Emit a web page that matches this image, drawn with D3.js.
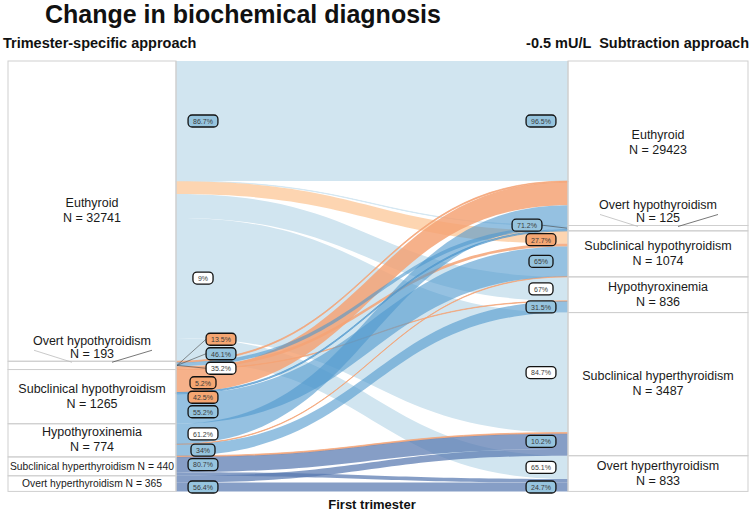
<!DOCTYPE html>
<html>
<head>
<meta charset="utf-8">
<script src="https://cdn.jsdelivr.net/npm/d3@7"></script>
<style>
  body { margin: 0; background: #fff; }
  svg { font-family: "Liberation Sans", Arial, sans-serif; }
</style>
</head>
<body>
<svg id="chart" width="752" height="512"></svg>
<script>
// Diagnoses, same order on both sides
const categories = ["Euthyroid", "Overt hypothyroidism", "Subclinical hypothyroidism",
  "Hypothyroxinemia", "Subclinical hyperthyroidism", "Overt hyperthyroidism"];
const keys = ["E", "OHo", "SHo", "HT", "SHr", "OHr"];

const leftTotals  = [32741, 193, 1265, 774, 440, 365];   // trimester-specific
const rightTotals = [29423, 125, 1074, 836, 3487, 833];  // -0.5 mU/L subtraction

// rows = trimester-specific diagnosis, cols = subtraction diagnosis
const transitions = [
  [28382,  7, 297, 560, 2953, 542],
  [   26, 89,  68,  10,    0,   0],
  [  538, 29, 698,   0,    0,   0],
  [  474,  0,  11, 263,   26,   0],
  [    0,  0,   0,   0,  355,  85],
  [    0,  0,   0,   0,  159, 206]
];

// flows that carry a percentage badge ([source, target])
const leftBadges  = [[0,0],[0,4],[1,0],[1,1],[1,2],[1,3],[2,0],[2,2],[3,0],[3,3],[4,4],[5,5]];
const rightBadges = [[0,0],[1,1],[0,2],[2,2],[0,3],[3,3],[0,4],[4,4],[0,5],[5,5]];
const orangeBadges = ["L1-0", "L1-3", "L2-0", "R0-2"];

const x0 = 176, x1 = 568, yTop = 61;
const xm = (x0 + x1) / 2;

// band thickness, big flows are truncated
const thick = d3.scaleLinear().domain([0, 2800]).range([0, 120]).clamp(true);

const col = { light: "#d1e5f0", peach: "#fdd0a8", orange: "#f4a376", blue: "#4f97cd", slate: "#5878b0" };
const opac = { light: 1, peach: 0.9, orange: 0.85, blue: 0.6, slate: 0.72 };

const svg = d3.select("#chart");

const flows = [];
transitions.forEach((row, s) => row.forEach((v, t) => {
  if (v > 0) flows.push({ s, t, v, w: thick(v) });
}));

function stackNodes(side) {
  const nodes = keys.map((k, i) => ({
    i, h: d3.sum(flows.filter(f => (side === "L" ? f.s : f.t) === i), f => f.w)
  }));
  let y = yTop;
  nodes.forEach(n => { n.y0 = y; n.y1 = y + n.h; y = n.y1; });
  return nodes;
}
const leftNodes = stackNodes("L");
const rightNodes = stackNodes("R");

leftNodes.forEach(n => {
  let y = n.y0;
  flows.filter(f => f.s === n.i).sort((a, b) => a.t - b.t)
    .forEach(f => { f.sy0 = y; f.sy1 = y + f.w; y += f.w; });
});
rightNodes.forEach(n => {
  let y = n.y0;
  flows.filter(f => f.t === n.i).sort((a, b) => a.s - b.s)
    .forEach(f => { f.ty0 = y; f.ty1 = y + f.w; y += f.w; });
});

function bandKind(f) {
  const s = keys[f.s], t = keys[f.t];
  if (s === "E") return t === "SHo" ? "peach" : "light";
  if (s === "SHr" || s === "OHr") return "slate";
  if (s === t) return "blue";
  if (s === "HT" && t === "E") return "blue";
  if (s === "SHo" && t === "OHo") return "blue";
  return "orange";
}

function bandPath(f) {
  const p = d3.path();
  p.moveTo(x0, f.sy0);
  p.bezierCurveTo(xm, f.sy0, xm, f.ty0, x1, f.ty0);
  p.lineTo(x1, f.ty1);
  p.bezierCurveTo(xm, f.ty1, xm, f.sy1, x0, f.sy1);
  p.closePath();
  return p.toString();
}

const order = ["light", "peach", "orange", "blue", "slate"];
flows.forEach(f => f.kind = bandKind(f));
const drawn = flows.slice().sort((a, b) => order.indexOf(a.kind) - order.indexOf(b.kind));

svg.append("g").selectAll("path")
  .data(drawn)
  .join("path")
  .attr("d", bandPath)
  .attr("fill", f => col[f.kind])
  .attr("fill-opacity", f => opac[f.kind])
  .attr("stroke", f => f.w < 2 ? col[f.kind] : "none")
  .attr("stroke-width", 0.7);

// frames
const frame = svg.append("g").attr("fill", "none").attr("stroke", "#cfcfcf").attr("stroke-width", 1);
const bottom = d3.max(leftNodes, n => n.y1);
frame.append("line").attr("x1", x0).attr("x2", x0).attr("y1", yTop).attr("y2", bottom);
frame.append("line").attr("x1", x1).attr("x2", x1).attr("y1", yTop).attr("y2", bottom);

function drawNodes(nodes, totals, bx0, bx1) {
  const g = svg.append("g");
  const cx = (bx0 + bx1) / 2;
  nodes.forEach(n => {
    g.append("rect").attr("x", bx0).attr("y", n.y0).attr("width", bx1 - bx0).attr("height", n.h)
      .attr("fill", "none").attr("stroke", "#cfcfcf");
    const name = categories[n.i], nTxt = `N = ${totals[n.i]}`;
    const cy = (n.y0 + n.y1) / 2;
    if (n.h >= 30) {
      g.append("text").attr("x", cx).attr("y", cy - 8).text(name);
      g.append("text").attr("x", cx).attr("y", cy + 7).text(nTxt);
    } else if (n.h >= 12) {
      g.append("text").attr("x", cx).attr("y", cy).attr("font-size", 10.3).text(`${name} ${nTxt}`);
    } else {
      g.append("text").attr("x", cx).attr("y", n.y0 - 20).text(name);
      g.append("text").attr("x", cx).attr("y", n.y0 - 7).text(nTxt);
      g.append("line").attr("x1", cx - 58).attr("y1", n.y0 - 11).attr("x2", cx - 20).attr("y2", n.y0 + 1)
        .attr("stroke", "#bbb").attr("stroke-width", 0.8);
      g.append("line").attr("x1", cx + 20).attr("y1", n.y0 + 1).attr("x2", cx + 60).attr("y2", n.y0 - 11)
        .attr("stroke", "#555").attr("stroke-width", 0.8);
    }
  });
  g.selectAll("text").attr("text-anchor", "middle").attr("dominant-baseline", "central")
    .attr("font-size", function () { return this.getAttribute("font-size") || 12.5; })
    .attr("fill", "#1a1a1a");
}
drawNodes(leftNodes, leftTotals, 8, x0);
drawNodes(rightNodes, rightTotals, x1, 748);

// percentage badges
const pctFmt = v => `${+(v * 100).toFixed(1)}%`;

function placeBadges(list, side) {
  const items = list.map(([s, t]) => {
    const f = flows.find(d => d.s === s && d.t === t);
    const total = side === "L" ? leftTotals[s] : rightTotals[t];
    const want = side === "L" ? (f.sy0 + f.sy1) / 2 : (f.ty0 + f.ty1) / 2;
    const node = side === "L" ? leftNodes[s] : rightNodes[t];
    return { s, t, want, node, text: pctFmt(f.v / total), id: `${side}${s}-${t}` };
  }).sort((a, b) => a.want - b.want);

  // push overlapping badges apart, keeping each cluster centred
  const gap = 14.5;
  let groups = items.map(d => ({ items: [d], y: d.want }));
  let changed = true;
  while (changed) {
    changed = false;
    for (let i = 1; i < groups.length; i++) {
      const a = groups[i - 1], b = groups[i];
      if (b.y < a.y + a.items.length * gap) {
        const merged = a.items.concat(b.items);
        const y = d3.mean(merged, d => d.want) - (merged.length - 1) * gap / 2;
        groups.splice(i - 1, 2, { items: merged, y });
        changed = true;
        break;
      }
    }
  }
  groups.forEach(g => g.items.forEach((d, k) => d.y = g.y + k * gap));
  return items;
}

function drawBadges(list, side) {
  const items = placeBadges(list, side);
  const g = svg.append("g");
  items.forEach(d => {
    const tiny = d.node.h < 10 && d.y <= d.node.y1 + 4;
    const cx = side === "L" ? x0 + 27 + (tiny ? 18 : 0) : x1 - 27 - (tiny ? 14 : 0);
    const tone = d.s === d.t ? "#96c4de" : orangeBadges.includes(d.id) ? "#f5a672" : "#fff";
    const b = g.append("g");
    const rect = b.append("rect");
    const txt = b.append("text").attr("x", cx).attr("y", d.y + 0.3)
      .attr("text-anchor", "middle").attr("dominant-baseline", "central")
      .attr("font-size", 7).attr("fill", "#3a3a3a").text(d.text);
    const bw = txt.node().getComputedTextLength() + 10;
    rect.attr("x", cx - bw / 2).attr("y", d.y - 6).attr("width", bw).attr("height", 12)
      .attr("rx", 4).attr("fill", tone).attr("stroke", "#111").attr("stroke-width", 1.3);
    if (tiny) {
      const ny = (d.node.y0 + d.node.y1) / 2;
      g.insert("line", ":first-child")
        .attr("x1", side === "L" ? x0 + 1 : x1 - 1).attr("y1", ny)
        .attr("x2", side === "L" ? cx - bw / 2 : cx + bw / 2).attr("y2", d.y)
        .attr("stroke", "#444").attr("stroke-width", 0.6);
    }
  });
}
drawBadges(leftBadges, "L");
drawBadges(rightBadges, "R");

// titles
svg.append("text").attr("x", 45).attr("y", 23)
  .attr("font-size", 25).attr("font-weight", "bold").attr("fill", "#111")
  .text("Change in biochemical diagnosis");
svg.append("text").attr("x", 3).attr("y", 48)
  .attr("font-size", 14.5).attr("font-weight", "bold").attr("fill", "#111")
  .text("Trimester-specific approach");
svg.append("text").attr("x", 749).attr("y", 48).attr("text-anchor", "end")
  .attr("font-size", 14.5).attr("font-weight", "bold").attr("fill", "#111")
  .style("white-space", "pre")
  .text("-0.5 mU/L  Subtraction approach");
svg.append("text").attr("x", xm).attr("y", 509).attr("text-anchor", "middle")
  .attr("font-size", 13).attr("font-weight", "bold").attr("fill", "#111")
  .text("First trimester");
</script>
</body>
</html>
